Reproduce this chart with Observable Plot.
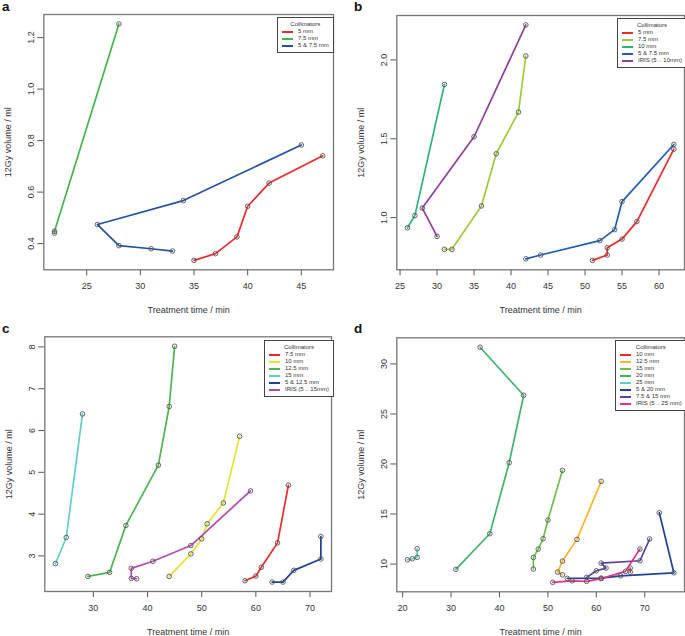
<!DOCTYPE html>
<html>
<head>
<meta charset="utf-8">
<script src="https://cdn.jsdelivr.net/npm/d3@7"></script>
<script src="https://cdn.jsdelivr.net/npm/@observablehq/plot@0.6"></script>
<style>
  html, body { margin: 0; padding: 0; background: #fff; }
  body { width: 685px; height: 636px; overflow: hidden; position: relative;
         font-family: "Liberation Sans", Arial, Helvetica, sans-serif; }
  .panel { position: absolute; }
  .panel svg { display: block; }
  .tag { position: absolute; left: 2px; top: 0px; font-weight: bold; font-size: 13.5px; line-height: 13.5px; color: #111; }
  .legend { position: absolute; border: 1px solid #444; background: #fff; font-size: 6px; color: #333;
            padding: 2px 4px 3px 4px; line-height: 7px; box-sizing: border-box; }
  .legend .lt { text-align: center; line-height: 8px; margin-bottom: 0px; }
  .legend .le { white-space: nowrap; display: flex; align-items: center; height: 7px; }
  .legend .sw { display: inline-block; width: 11px; height: 2px; margin-right: 5px; flex: none; }
</style>
</head>
<body>
<script>
// ---------- Panel a ----------
const aSeries = ["5 mm", "7.5 mm", "5 & 7.5 mm"];
const aTime = [
  [35, 37, 39, 40, 42, 47],
  [22, 22, 28],
  [33, 31, 28, 26, 34, 45]
];
const aVolume = [
  [0.335, 0.361, 0.426, 0.545, 0.635, 0.741],
  [0.441, 0.448, 1.253],
  [0.371, 0.380, 0.392, 0.474, 0.567, 0.783]
];
const aXTicks = [25, 30, 35, 40, 45];
const aYTicks = [0.4, 0.6, 0.8, 1.0, 1.2];

// ---------- Panel b ----------
const bSeries = ["5 mm", "7.5 mm", "10 mm", "5 & 7.5 mm", "IRIS (5 .. 10mm)"];
const bTime = [
  [51, 53, 53, 55, 57, 62],
  [31, 32, 36, 38, 41, 42],
  [26, 27, 31],
  [42, 44, 52, 54, 55, 62],
  [30, 28, 35, 42]
];
const bVolume = [
  [0.729, 0.763, 0.809, 0.864, 0.975, 1.434],
  [0.799, 0.799, 1.074, 1.405, 1.669, 2.025],
  [0.936, 1.013, 1.845],
  [0.739, 0.763, 0.854, 0.924, 1.102, 1.464],
  [0.881, 1.061, 1.513, 2.222]
];
const bXTicks = [25, 30, 35, 40, 45, 50, 55, 60];
const bYTicks = [1.0, 1.5, 2.0];

// ---------- Panel c ----------
const cSeries = ["7.5 mm", "10 mm", "12.5 mm", "15 mm", "5 & 12.5 mm", "IRIS (5 .. 15mm)"];
const cTime = [
  [58, 60, 61, 64, 66],
  [44, 48, 50, 51, 54, 57],
  [29, 33, 36, 42, 44, 45],
  [23, 25, 28],
  [63, 65, 67, 72, 72],
  [38, 37, 37, 41, 48, 59]
];
const cVolume = [
  [2.407, 2.519, 2.728, 3.313, 4.691],
  [2.511, 3.048, 3.409, 3.769, 4.266, 5.861],
  [2.511, 2.607, 3.729, 5.171, 6.574, 8.016],
  [2.816, 3.441, 6.397],
  [2.375, 2.375, 2.655, 2.928, 3.465],
  [2.455, 2.463, 2.703, 2.872, 3.248, 4.554]
];
const cXTicks = [30, 40, 50, 60, 70];
const cYTicks = [3, 4, 5, 6, 7, 8];

// ---------- Panel d ----------
const dSeries = ["10 mm", "12.5 mm", "15 mm", "20 mm", "25 mm", "5 & 20 mm", "7.5 & 15 mm", "IRIS (5 .. 25 mm)"];
const dTime = [
  [67, 67],
  [53, 52, 53, 56, 61],
  [47, 47, 48, 49, 50, 53],
  [31, 38, 42, 45, 36],
  [21, 22, 23, 23],
  [54, 61, 65, 76, 73],
  [58, 60, 62, 61, 69, 71],
  [51, 55, 58, 61, 66, 69]
];
const dVolume = [
  [9.2, 9.6],
  [8.93, 9.2, 10.3, 12.47, 18.27],
  [9.5, 10.67, 11.5, 12.53, 14.4, 19.37],
  [9.47, 13.03, 20.13, 26.87, 31.67],
  [10.43, 10.53, 10.67, 11.53],
  [8.57, 8.6, 8.83, 9.13, 15.13],
  [8.67, 9.33, 9.6, 10.1, 10.33, 12.5],
  [8.17, 8.33, 8.27, 8.55, 9.27, 11.5]
];
const dXTicks = [20, 30, 40, 50, 60, 70];
const dYTicks = [10, 15, 20, 25, 30];

// ---------- colours (scale ranges) ----------
const aColors = ["#EE2A2A", "#44B64A", "#2352A5"];
const bColors = ["#EE2A2A", "#9BCB3C", "#2DB37A", "#1E5DB4", "#8E3E9E"];
const cColors = ["#EE2A2A", "#E4E430", "#4CB551", "#5ECFCB", "#1F3E9B", "#B548B2"];
const dColors = ["#EE2A2A", "#FDB42C", "#6DC04B", "#41B56A", "#5FCCC7", "#1E4399", "#5B3FA3", "#E8318B"];

const xLabel = "Treatment time / min";
const yLabel = "12Gy volume / ml";

function pad(ext) {
  const r = ext[1] - ext[0];
  return [ext[0] - 0.04 * r, ext[1] + 0.04 * r];
}

function makePanel(cfg) {
  const rows = cfg.series.flatMap((s, k) => cfg.time[k].map((t, j) => ({ s, t, v: cfg.volume[k][j] })));
  const chart = Plot.plot({
    width: cfg.width,
    height: cfg.height,
    marginLeft: cfg.ml,
    marginRight: cfg.mr,
    marginTop: cfg.mt,
    marginBottom: cfg.height - cfg.fb,
    style: { fontFamily: '"Liberation Sans", Arial, Helvetica, sans-serif', fontSize: "9px", color: "#333", background: "transparent", overflow: "visible" },
    x: { domain: pad(d3.extent(rows, d => d.t)) },
    y: { domain: pad(d3.extent(rows, d => d.v)) },
    color: { domain: cfg.series, range: cfg.colors },
    marks: [
      Plot.axisX({ ticks: cfg.xTicks, tickSize: 6, tickPadding: 7, stroke: "#555", fontSize: 9,
                   label: xLabel, labelAnchor: "center", labelOffset: 43, labelArrow: "none" }),
      Plot.axisY({ ticks: cfg.yTicks, tickFormat: cfg.yFormat, tickRotate: -90, tickSize: 6, tickPadding: 4,
                   stroke: "#555", fontSize: 9,
                   label: yLabel, labelAnchor: "center", labelOffset: cfg.lo, labelArrow: "none" }),
      Plot.frame({ stroke: "#777", strokeWidth: 1.3 }),
      Plot.line(rows, { x: "t", y: "v", z: "s", stroke: "s", strokeWidth: 1.7 }),
      Plot.dot(rows, { x: "t", y: "v", r: 2.3, stroke: "#555", strokeWidth: 0.9, fill: "none" })
    ]
  });
  const div = document.createElement("div");
  div.className = "panel";
  div.style.left = cfg.left + "px";
  div.style.top = cfg.top + "px";
  div.style.width = cfg.width + "px";
  div.style.height = cfg.height + "px";
  div.appendChild(chart);
  const tag = document.createElement("div");
  tag.className = "tag";
  tag.textContent = cfg.tag;
  div.appendChild(tag);
  const lg = document.createElement("div");
  lg.className = "legend";
  lg.style.left = cfg.lgLeft + "px";
  lg.style.top = cfg.lgTop + "px";
  lg.innerHTML = '<div class="lt">Collimators</div>' +
    cfg.series.map((s, i) => `<div class="le"><span class="sw" style="background:${cfg.colors[i]}"></span>${s.replace(/&/g, "&amp;")}</div>`).join("");
  div.appendChild(lg);
  document.body.appendChild(div);
}

const f1 = d3.format(".1f");

makePanel({ tag: "a", series: aSeries, time: aTime, volume: aVolume, colors: aColors, xTicks: aXTicks, yTicks: aYTicks, yFormat: f1,
  left: 0, top: 0, width: 342, height: 318, ml: 43.3, mr: 9, mt: 14, fb: 269.3, lo: 39, lgLeft: 277, lgTop: 17 });
makePanel({ tag: "b", series: bSeries, time: bTime, volume: bVolume, colors: bColors, xTicks: bXTicks, yTicks: bYTicks, yFormat: f1,
  left: 352, top: 0, width: 333, height: 318, ml: 44.3, mr: 1, mt: 15, fb: 269.3, lo: 39, lgLeft: 265, lgTop: 18 });
makePanel({ tag: "c", series: cSeries, time: cTime, volume: cVolume, colors: cColors, xTicks: cXTicks, yTicks: cYTicks, yFormat: d3.format("d"),
  left: 0, top: 322, width: 342, height: 314, ml: 44.3, mr: 11, mt: 14.3, fb: 269, lo: 39, lgLeft: 264, lgTop: 18 });
makePanel({ tag: "d", series: dSeries, time: dTime, volume: dVolume, colors: dColors, xTicks: dXTicks, yTicks: dYTicks, yFormat: d3.format("d"),
  left: 352, top: 322, width: 333, height: 314, ml: 44.3, mr: 1, mt: 15.3, fb: 269.3, lo: 39, lgLeft: 263, lgTop: 18 });
</script>
</body>
</html>
